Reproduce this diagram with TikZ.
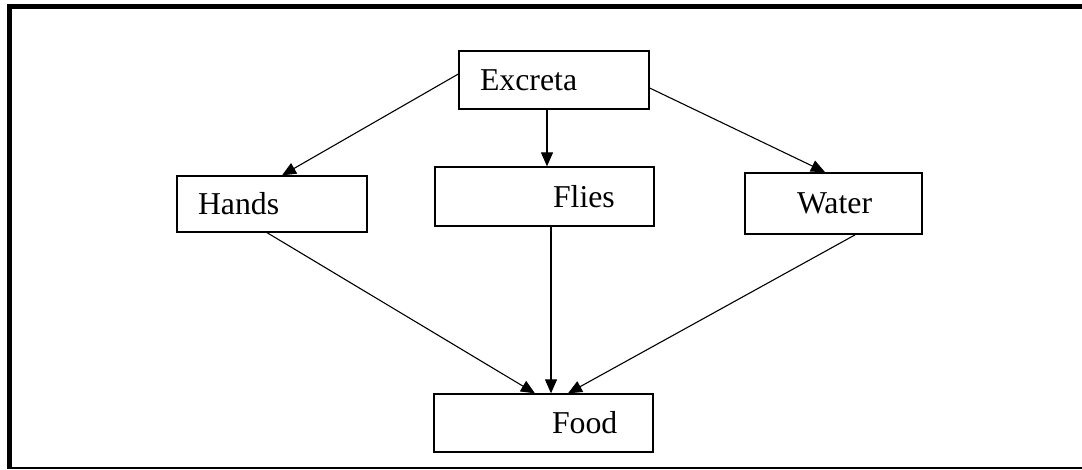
\documentclass[tikz,border=0pt]{standalone}
\usepackage{fontspec}
\setmainfont{Liberation Serif}
\usepackage{tikz}
\usetikzlibrary{arrows.meta}

\tikzset{
  box/.style={draw, line width=0.65pt, inner xsep=0pt, inner ysep=0pt, align=left,
    font=\fontsize{15.9}{19}\selectfont},
  arr/.style={line width=0.55pt, -{Triangle[length=7pt,width=6pt]}}
}

\begin{document}
\begin{tikzpicture}[x=0.5pt,y=-0.5pt]
\useasboundingbox (0,0) rectangle (1082,470);
\draw[line width=2.5pt] (1082,6.5) -- (9,6.5) -- (9,469);
\draw[line width=1pt] (7.5,468) -- (1082,468);

\node[box, text width=95pt, minimum height=29pt] (exc) at (554,80) {\hspace*{10.5pt}Excreta};
\node[box, text width=95pt, minimum height=28pt] (hands) at (272,204) {\hspace*{10.5pt}Hands};
\node[box, text width=109.5pt, minimum height=29.5pt] (flies) at (544.5,196.5) {\hspace*{59pt}Flies};
\node[box, line width=0.9pt, text width=88.5pt, minimum height=30.5pt] (water) at (833.5,203.5) {\hspace*{26pt}Water};
\node[box, text width=109.5pt, minimum height=29pt] (food) at (543.5,423) {\hspace*{59pt}Food};

\draw[arr] ([yshift=3pt]exc.west) -- ([xshift=5pt]hands.north);
\draw[arr] ([xshift=-3.5pt]exc.south) -- ([xshift=-3.5pt]exc.south |- flies.north);
\draw[arr] ([yshift=-4pt]exc.east) -- ([xshift=-4.25pt]water.north);

\draw[arr] ([xshift=-2.5pt]hands.south) -- ([xshift=-4.25pt]food.north);
\draw[arr] ([xshift=3.25pt]flies.south) -- ([xshift=3.25pt]flies.south |- food.north);
\draw[arr] ([xshift=10.75pt]water.south) -- ([xshift=12.25pt]food.north);

\end{tikzpicture}
\end{document}
